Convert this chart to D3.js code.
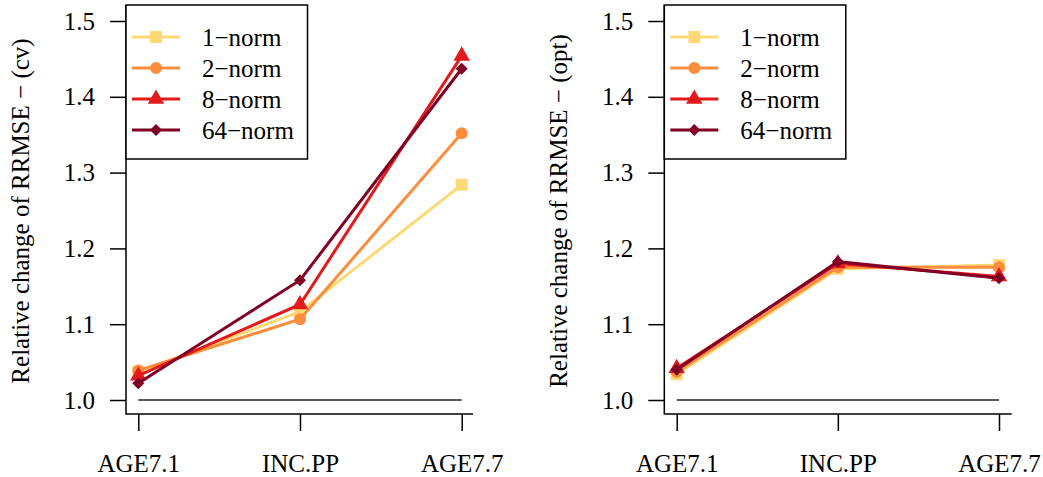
<!DOCTYPE html>
<html>
<head>
<meta charset="utf-8">
<script src="https://cdn.jsdelivr.net/npm/d3@7"></script>
</head>
<body style="margin:0; background:#fff">
<script>
// Categories on the x axis
const categories = ["AGE7.1", "INC.PP", "AGE7.7"];
// Series (legend labels)
const seriesNames = ["1\u2212norm", "2\u2212norm", "8\u2212norm", "64\u2212norm"];
const seriesColors = ["#FED976", "#FD8D3C", "#E31A1C", "#800026"];
const seriesSymbols = ["square", "circle", "triangle", "diamond"];
// Values per series, per category
const cvValues = [
    [1.037, 1.1165, 1.284],
    [1.039, 1.1065, 1.352],
    [1.032, 1.126, 1.454],
    [1.022, 1.158, 1.437]
];
const optValues = [
    [1.034, 1.173, 1.178],
    [1.037, 1.175, 1.175],
    [1.042, 1.180, 1.163],
    [1.040, 1.1825, 1.1605]
];
const yTicks = [1.0, 1.1, 1.2, 1.3, 1.4, 1.5];

const width = 1043, height = 477;
// text is set at 28px and scaled down to ~25px on screen
const baseSize = 28, k = 25 / 28;

const svg = d3.select("body").append("svg")
    .attr("width", width)
    .attr("height", height);

function symbolPath(kind) {
    if (kind === "square") return d3.symbol(d3.symbolSquare, 144)();
    if (kind === "circle") return d3.symbol(d3.symbolCircle, 113)();
    if (kind === "triangle") return d3.symbol(d3.symbolTriangle, 118)();
    // R pch 18 style diamond (square rotated 45deg)
    return "M0,-6L6,0L0,6L-6,0Z";
}

function serifText(sel, tx, ty, rot) {
    sel.attr("font-family", null)
        .attr("x", null)
        .attr("y", null)
        .attr("transform", `translate(${tx},${ty})${rot ? ` rotate(${rot})` : ""} scale(${k})`)
        .style("font-family", "\"Liberation Serif\", monospace")
        .style("font-size", baseSize + "px")
        .style("fill", "#000");
}

function drawPanel({ values, yLabel, left, x1, x3, plotRight, labelX }) {
    const g = svg.append("g");
    const top = 5, bottom = 414;

    const x = d3.scaleLinear().domain([1, 3]).range([x1, x3]);
    const y = d3.scaleLinear().domain([1.0, 1.5]).range([400, 21]);

    // L-shaped box
    g.append("path")
        .attr("d", `M${left},${top}L${left},${bottom}L${plotRight},${bottom}`)
        .attr("fill", "none")
        .attr("stroke", "#000")
        .attr("stroke-width", 1.5);

    // Y axis ticks + labels
    const ya = g.append("g")
        .attr("transform", `translate(${left},0)`)
        .call(d3.axisLeft(y)
            .tickValues(yTicks)
            .tickFormat(d3.format(".1f"))
            .tickSize(16)
            .tickPadding(15));
    ya.attr("font-family", null).attr("font-size", null);
    ya.select(".domain").remove();
    ya.selectAll(".tick line").attr("stroke", "#000").attr("stroke-width", 1.5);
    ya.selectAll(".tick text").call(serifText, -31, 0);

    // X axis ticks + labels
    const xa = g.append("g")
        .attr("transform", `translate(0,${bottom})`)
        .call(d3.axisBottom(x)
            .tickValues([1, 2, 3])
            .tickFormat((d, i) => categories[i])
            .tickSize(17)
            .tickPadding(23));
    xa.attr("font-family", null).attr("font-size", null);
    xa.select(".domain").remove();
    xa.selectAll(".tick line").attr("stroke", "#000").attr("stroke-width", 1.5);
    xa.selectAll(".tick text").call(serifText, 0, 40).attr("dy", "0.71em");

    // Y axis title
    g.append("text")
        .attr("text-anchor", "middle")
        .call(serifText, labelX, 211, -90)
        .text(yLabel);

    // Reference line at 1.0
    g.append("line")
        .attr("x1", x(1)).attr("x2", x(3))
        .attr("y1", y(1.0)).attr("y2", y(1.0))
        .attr("stroke", "#222")
        .attr("stroke-width", 1.5);

    // Series lines + points
    const line = d3.line()
        .x((d, i) => x(i + 1))
        .y(d => y(d));

    values.forEach((vals, s) => {
        g.append("path")
            .datum(vals)
            .attr("fill", "none")
            .attr("stroke", seriesColors[s])
            .attr("stroke-width", 3)
            .attr("d", line);
        g.selectAll(".pt" + s)
            .data(vals)
            .enter()
            .append("path")
            .attr("class", "pt" + s)
            .attr("transform", (d, i) => `translate(${x(i + 1)},${y(d)})`)
            .attr("d", symbolPath(seriesSymbols[s]))
            .attr("fill", seriesColors[s]);
    });

    // Legend
    const legW = 181.5, legH = 154;
    const legend = g.append("g").attr("transform", `translate(${left},${top})`);
    legend.append("rect")
        .attr("width", legW)
        .attr("height", legH)
        .attr("fill", "#fff")
        .attr("stroke", "#000")
        .attr("stroke-width", 1.5);

    seriesNames.forEach((name, s) => {
        const ry = 32 + s * 31;
        legend.append("line")
            .attr("x1", 6).attr("x2", 54)
            .attr("y1", ry).attr("y2", ry)
            .attr("stroke", seriesColors[s])
            .attr("stroke-width", 3);
        legend.append("path")
            .attr("transform", `translate(30,${ry})`)
            .attr("d", symbolPath(seriesSymbols[s]))
            .attr("fill", seriesColors[s]);
        legend.append("text")
            .attr("dy", "0.35em")
            .call(serifText, 76, ry)
            .text(name);
    });
}

drawPanel({
    values: cvValues,
    yLabel: "Relative change of RRMSE \u2212 (cv)",
    left: 126, x1: 138.3, x3: 461.7, plotRight: 473, labelX: 28.5
});

drawPanel({
    values: optValues,
    yLabel: "Relative change of RRMSE \u2212 (opt)",
    left: 664.3, x1: 676.7, x3: 999, plotRight: 1011.7, labelX: 566.7
});
</script>
</body>
</html>
